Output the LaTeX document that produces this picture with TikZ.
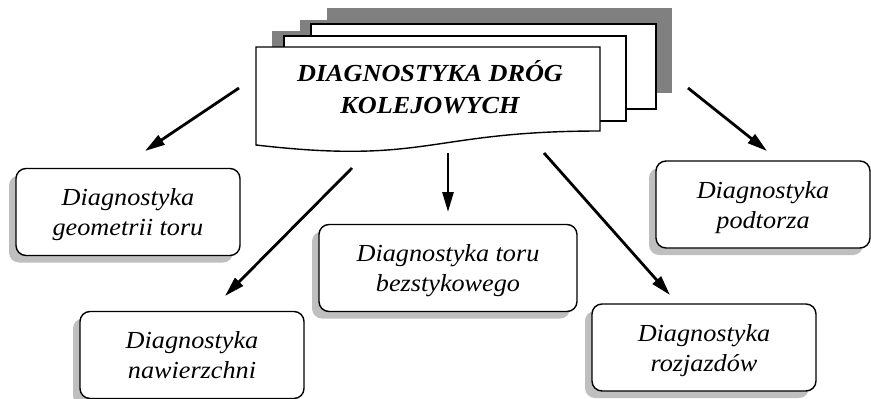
\documentclass[tikz,border=0pt]{standalone}
\usepackage{fontspec}
\setmainfont{Liberation Serif}[FakeStretch=1.07]
\usepackage{tikz}
\usetikzlibrary{arrows.meta, shadows}
\tikzstyle{branch} = [draw=black, line width=1.4pt, rounded corners=10pt, fill=white, align=center, minimum width=224pt, minimum height=87pt, inner sep=0pt, text depth=0pt, font=\fontsize{24.5}{30}\selectfont\itshape, general shadow={fill=black!25, shadow xshift=-7pt, shadow yshift=-7pt}]
\tikzstyle{page} = [draw=black, line width=1.4pt, fill=white]
\tikzstyle{pageshadow} = [fill=black!50]
\tikzstyle{arrow} = [line width=2.8pt, -{Triangle[length=20pt,width=11pt]}]

\begin{document}
\begin{tikzpicture}[x=1pt, y=-1pt]
          \useasboundingbox (0,0) rectangle (871,399);

          \foreach \xa/\ya/\xb/\yb in {311/24/656/109, 284/36/626/121, 256/47/600/115}
              \fill[pageshadow] ([shift={(16,-16)}]\xa,\ya) rectangle ([shift={(16,-16)}]\xb,\yb);
          \foreach \xa/\ya/\xb/\yb in {311/24/656/109, 284/36/626/121}
              \draw[page] (\xa,\ya) rectangle (\xb,\yb);
          \draw[page] (256,47) -- (600,47) -- (600,131) .. controls (428,131) and (428,165) .. (256,145) -- cycle;

          \node[font=\fontsize{24.5}{32}\selectfont\bfseries\itshape, align=center] (doc) at (430,87) {DIAGNOSTYKA DRÓG\\KOLEJOWYCH};

          \node[branch] (box-1) at (128,212) {Diagnostyka\\geometrii toru};
          \node[branch] (box-2) at (192,355) {Diagnostyka\\nawierzchni};
          \node[branch, minimum width=258pt] (box-3) at (448,268) {Diagnostyka toru\\bezstykowego};
          \node[branch] (box-4) at (704,347.5) {Diagnostyka\\rozjazdów};
          \node[branch, minimum width=214pt] (box-5) at (763,204.5) {Diagnostyka\\podtorza};

          \coordinate (from-1) at (239,88);
          \coordinate (to-1) at (145,151);
          \coordinate (from-2) at (352,168);
          \coordinate (to-2) at (225,296);
          \coordinate (from-3) at (448,153);
          \coordinate (to-3) at (448,212);
          \coordinate (from-4) at (544,153);
          \coordinate (to-4) at (670,295);
          \coordinate (from-5) at (688,88);
          \coordinate (to-5) at (767,151);

          \foreach \i in {1,...,5}
              \draw[arrow] (from-\i) -- (to-\i);
      \end{tikzpicture}
\end{document}
